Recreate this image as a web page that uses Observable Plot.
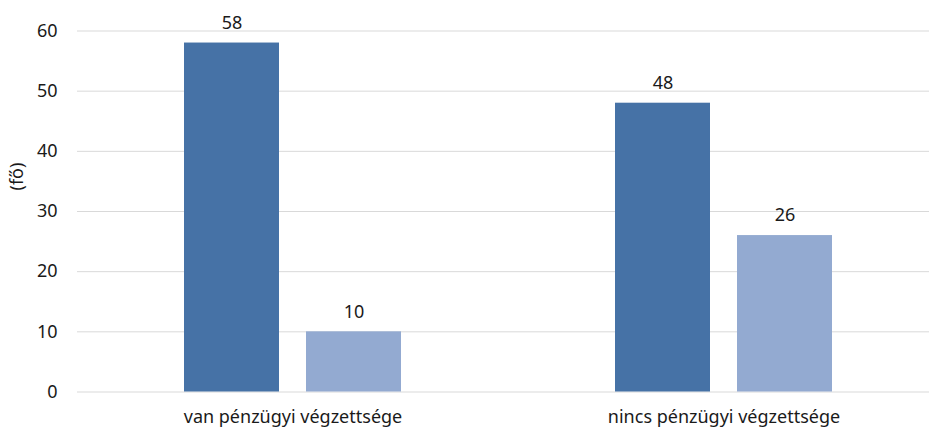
<!DOCTYPE html>
<html>
<head>
<meta charset="utf-8">
<script src="https://cdn.jsdelivr.net/npm/d3@7"></script>
<script src="https://cdn.jsdelivr.net/npm/@observablehq/plot@0.6"></script>
<style>
  html, body { margin: 0; padding: 0; background: #fff; }
  #chart { width: 929px; height: 429px; overflow: hidden; }
  #chart svg { font-family: "Noto Sans", "Open Sans", sans-serif; color: #1a1a1a; }
</style>
</head>
<body>
<div id="chart"></div>
<script>
const groups = ["van pénzügyi végzettsége", "nincs pénzügyi végzettsége"];
const seriesNames = ["1. sorozat", "2. sorozat"];
const series1Values = [58, 48];
const series2Values = [10, 26];
const yTicks = [0, 10, 20, 30, 40, 50, 60];
const yLabel = "(fő)";
const colors = ["#4672a6", "#93aad1"];

const data = [];
groups.forEach((g, i) => {
  data.push({group: g, series: seriesNames[0], value: series1Values[i]});
  data.push({group: g, series: seriesNames[1], value: series2Values[i]});
});

const FS = 18;
const chart = Plot.plot({
  width: 929,
  height: 429,
  marginTop: 30.5,
  marginBottom: 37.5,
  marginLeft: 77,
  marginRight: 0,
  style: {fontSize: FS + "px", fontFamily: "'Noto Sans', 'Open Sans', sans-serif", color: "#1a1a1a", overflow: "hidden"},
  fx: {domain: groups, range: [76.75, 939.75], padding: 0},
  x: {domain: seriesNames, paddingInner: 0.22, paddingOuter: 0.864, axis: null},
  y: {domain: [0, 60]},
  color: {domain: seriesNames, range: colors},
  marks: [
    Plot.gridY(yTicks, {stroke: "#d9d9d9", strokeOpacity: 1, strokeWidth: 1}),
    Plot.axisY(yTicks, {tickSize: 0, tickPadding: 20, fontSize: FS, label: null}),
    Plot.text([yLabel], {frameAnchor: "left", dx: -60, dy: -21, rotate: -90, fontSize: FS, fill: "#1a1a1a", facetAnchor: "left"}),
    Plot.axisFx({anchor: "bottom", tickSize: 0, tickPadding: 18, fontSize: FS, label: null}),
    Plot.barY(data, {fx: "group", x: "series", y: "value", fill: "series", inset: 0}),
    Plot.text(data, {fx: "group", x: "series", y: "value", text: d => String(d.value), dy: -20, fontSize: FS, fill: "#1a1a1a"})
  ]
});
document.getElementById("chart").appendChild(chart);
</script>
</body>
</html>
